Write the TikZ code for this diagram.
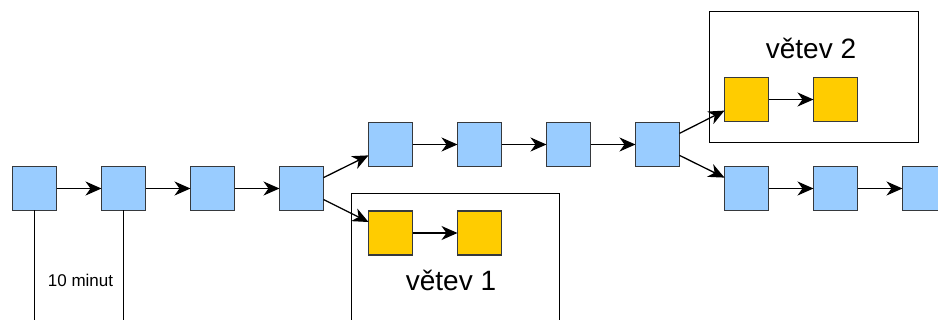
\documentclass[tikz,border=0pt]{standalone}
\usepackage{fontspec}
\setmainfont{Liberation Sans}
\usetikzlibrary{arrows.meta}
\definecolor{blockblue}{HTML}{99CCFF}
\definecolor{blockgold}{HTML}{FFCC00}
\definecolor{blockedge}{HTML}{36393D}
\tikzset{
  block/.style={draw=blockedge, line width=1.3pt, minimum size=44pt, inner sep=0pt, outer sep=0pt},
  mainblock/.style={block, fill=blockblue},
  sideblock/.style={block, fill=blockgold},
  link/.style={line width=1.3pt, -{Stealth[length=16pt,width=14pt,inset=5pt]}},
  frame/.style={draw=black, line width=1pt},
  tick/.style={line width=1.2pt},
  label/.style={font=\fontsize{17}{20}\selectfont, anchor=base},
  branchlabel/.style={font=\fontsize{28}{33}\selectfont, anchor=base},
}
\begin{document}
\begin{tikzpicture}[x=1pt, y=-1pt]
\useasboundingbox (0,0) rectangle (938,320);
\clip (0,0) rectangle (938,320);
\fill[white] (0,0) rectangle (938,320);

% branch frames
\draw[frame] (351,194) rectangle (559,330);
\draw[frame] (709,12) rectangle (918,143);
\node[branchlabel] (l1) at (451,291) {větev 1};
\node[branchlabel] (l2) at (811,59) {větev 2};

% main chain
\node[mainblock] (b1) at (34.5,188.5) {};
\node[mainblock] (b2) at (123.5,188.5) {};
\node[mainblock] (b3) at (212.5,188.5) {};
\node[mainblock] (b4) at (301.5,188.5) {};
\node[mainblock] (b5) at (390.5,144.5) {};
\node[mainblock] (b6) at (479.5,144.5) {};
\node[mainblock] (b7) at (568.5,144.5) {};
\node[mainblock] (b8) at (657.5,144.5) {};
\node[mainblock] (b9) at (746.5,188.5) {};
\node[mainblock] (b10) at (835.5,188.5) {};
\node[mainblock] (b11) at (924.5,188.5) {};

% orphaned branches
\node[sideblock] (s1) at (390.5,233) {};
\node[sideblock] (s2) at (479.5,233) {};
\node[sideblock] (t1) at (746.5,99.5) {};
\node[sideblock] (t2) at (835.5,99.5) {};

\draw[link] (b1) -- (b2);
\draw[link] (b2) -- (b3);
\draw[link] (b3) -- (b4);
\draw[link] (b4) -- (b5);
\draw[link] (b4) -- (s1);
\draw[link] (s1) -- (s2);
\draw[link] (b5) -- (b6);
\draw[link] (b6) -- (b7);
\draw[link] (b7) -- (b8);
\draw[link] (b8) -- (t1);
\draw[link] (t1) -- (t2);
\draw[link] (b8) -- (b9);
\draw[link] (b9) -- (b10);
\draw[link] (b10) -- (b11);

% block interval marker
\coordinate (e1) at (34.5,330);
\coordinate (e2) at (123.5,330);
\draw[tick] (b1.south) -- (e1);
\draw[tick] (b2.south) -- (e2);
\node[label] (interval) at (80.5,287) {10 minut};
\end{tikzpicture}
\end{document}
